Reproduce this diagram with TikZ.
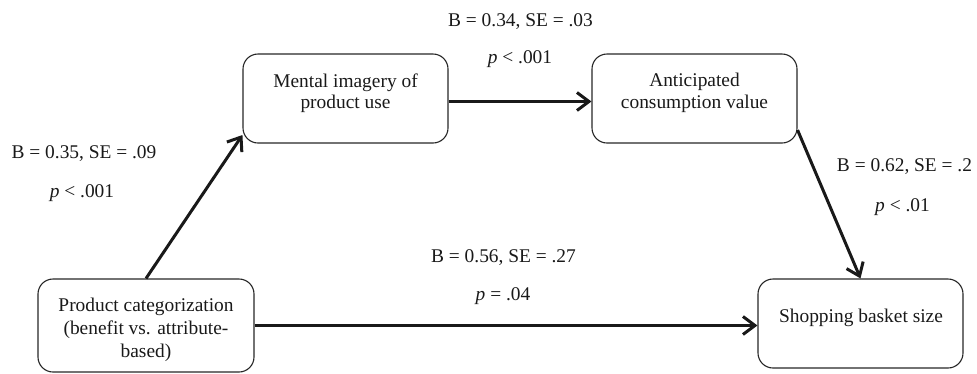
\documentclass[tikz,border=0pt]{standalone}
\usepackage{fontspec}
\setmainfont{Liberation Serif}
\usetikzlibrary{arrows.meta}
\begin{document}
\begin{tikzpicture}[x=1pt,y=-1pt,
  boxnode/.style={draw=black!85, line width=1.1pt, rounded corners=15pt, minimum width=205pt, minimum height=89pt, inner sep=0pt},
  txt/.style={font=\fontsize{19.4}{23}\selectfont, align=center, inner sep=0pt, text=black!90},
  lbl/.style={font=\fontsize{19.4}{23}\selectfont, inner sep=0pt, anchor=base, text=black!90},
  arr/.style={line width=3pt, draw=black!90, -{Straight Barb[length=12pt,width=18pt]}}]
\useasboundingbox (0,0) rectangle (977,373);
% boxes
\node[boxnode, minimum width=216pt, minimum height=93pt] (p) at (146,325.5) {};
\node[boxnode] (m) at (345.5,98.5) {};
\node[boxnode] (a) at (694.5,98.5) {};
\node[boxnode] (s) at (860.5,323.5) {};
% box texts
\node[txt] (pt) at (146,329.5) {Product categorization\\(benefit vs. attribute-\\based)};
\node[txt, font=\fontsize{19.4}{21.3}\selectfont] (mt) at (345.5,92.9) {Mental imagery of\\product use};
\node[txt, font=\fontsize{19.4}{21.3}\selectfont] (at) at (694.5,92.9) {Anticipated\\consumption value};
\node[txt] (st) at (861,318.3) {Shopping basket size};
% connectors
\draw[arr] (p.north) -- ([yshift=-36.5pt]m.west);
\draw[arr] ([yshift=-3pt]m.east) -- ([yshift=-3pt]a.west);
\draw[arr] ([yshift=-31.5pt]a.east) -- (s.north);
\draw[arr] (p.east) -- (p.east -| s.west);
% labels
\node[lbl] (l1a) at (520.5,26) {B = 0.34, SE = .03};
\node[lbl] (l1b) at (520,63.3) {\textit{p} < .001};
\node[lbl] (l2a) at (84,158.3) {B = 0.35, SE = .09};
\node[lbl] (l2b) at (82,197) {\textit{p} < .001};
\node[lbl] (l3a) at (503.5,262.7) {B = 0.56, SE = .27};
\node[lbl] (l3b) at (503,300) {\textit{p} = .04};
\node[lbl] (l4a) at (904.5,171) {B = 0.62, SE = .2};
\node[lbl] (l4b) at (902.5,211.7) {\textit{p} < .01};
\end{tikzpicture}
\end{document}
